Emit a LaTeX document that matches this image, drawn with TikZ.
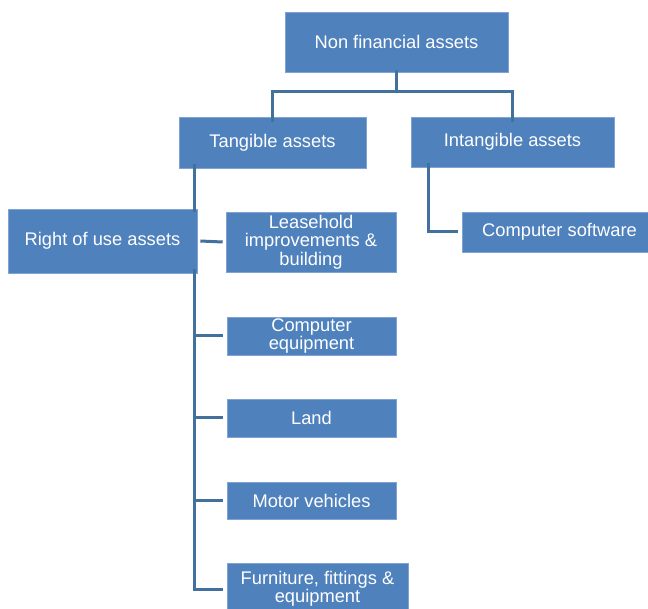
\documentclass[tikz,border=0pt]{standalone}
\usepackage{fontspec}
\setmainfont{Liberation Sans}
\definecolor{boxblue}{HTML}{4F81BD}
\definecolor{boxedge}{HTML}{7FA3D3}
\definecolor{linkblue}{HTML}{41719C}
\begin{document}
\begin{tikzpicture}[x=1pt,y=-1pt,
  box/.style={fill=boxblue, draw=boxedge, line width=0.6pt, text=white, align=center,
    inner sep=0pt, font=\fontsize{18.3}{18.5}\selectfont},
  link/.style={draw=linkblue, line width=3pt}]
\useasboundingbox (0,0) rectangle (648,609);
\clip (0,0) rectangle (648,609);
\node[box, minimum width=223, minimum height=60] (top) at (396.5,42) {Non financial assets};
\node[box, minimum width=187, minimum height=51] (tang) at (272.5,142.5) {Tangible assets};
\node[box, minimum width=203, minimum height=50] (intang) at (512.5,142) {Intangible assets};
\node[box, minimum width=189, minimum height=64] (rou) at (102.5,241) {Right of use assets};
\node[box, minimum width=170, minimum height=60] (lease) at (311,242) {Leasehold\\improvements \&\\building};
\node[box, minimum width=169, minimum height=38] (comp) at (311.5,336) {Computer\\equipment};
\node[box, minimum width=169, minimum height=38] (land) at (311.5,418) {Land};
\node[box, minimum width=169, minimum height=37] (motor) at (311.5,500.5) {Motor vehicles};
\node[box, minimum width=181, minimum height=52] (furn) at (317.5,589) {Furniture, fittings \&\\equipment};
\node[box, minimum width=195, minimum height=40] (soft) at (559.5,232) {Computer software};
% top level
\draw[link] ([yshift=2]top.south) -- ++(0,21) coordinate (mid);
\draw[link] ([yshift=-5]tang.north) |- (mid) -| ([yshift=-5]intang.north);
% tangible spine
\coordinate (sp) at ([xshift=16]tang.south west);
\draw[link] ([yshift=4]sp) -- ([yshift=-3]sp |- rou.north);
\draw[link] ([yshift=4]sp |- rou.south) -- (sp |- furn) -- ([xshift=-4]furn.west);
\draw[link] ([xshift=3]rou.east) -- ([xshift=-3]lease.west);
\draw[link] (sp |- comp) -- ([xshift=-4]comp.west);
\draw[link] (sp |- land) -- ([xshift=-4]land.west);
\draw[link] (sp |- motor) -- ([xshift=-4]motor.west);
% intangible
\coordinate (ip) at ([xshift=18,yshift=4]intang.south west);
\draw[link] (ip) |- ([xshift=-4]soft.west);
\end{tikzpicture}
\end{document}
